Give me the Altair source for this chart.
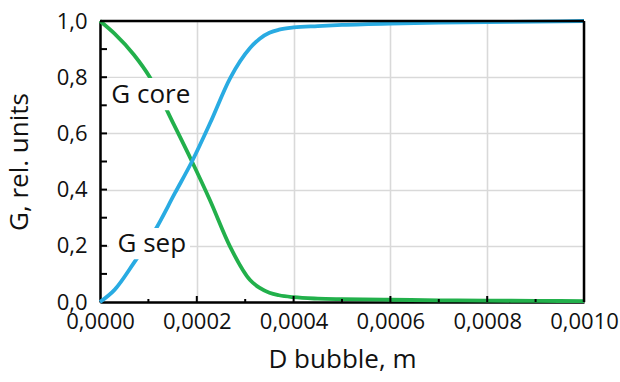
import altair as alt
import pandas as pd

# G core (green, decreasing)
core_x = [0.0, 0.00003, 0.00007, 0.000103, 0.000153, 0.00019, 0.000227, 0.000269, 0.00031,
          0.00033, 0.00035, 0.00037, 0.0004, 0.00045, 0.0005, 0.0006, 0.0007, 0.0008, 0.0009, 0.001]
core_y = [1.0, 0.955, 0.88, 0.80, 0.63, 0.50, 0.363, 0.196, 0.078,
          0.050, 0.033, 0.024, 0.017, 0.012, 0.010, 0.008, 0.006, 0.005, 0.004, 0.003]

# G sep (blue, increasing)
sep_x = [0.0, 0.00003, 0.00007, 0.000114, 0.000155, 0.00019, 0.000227, 0.000269, 0.00031,
         0.00033, 0.00035, 0.00037, 0.0004, 0.00045, 0.0005, 0.0006, 0.0007, 0.0008, 0.0009, 0.001]
sep_y = [0.0, 0.043, 0.139, 0.256, 0.388, 0.50, 0.635, 0.797, 0.904,
         0.937, 0.958, 0.969, 0.977, 0.982, 0.986, 0.991, 0.994, 0.996, 0.998, 1.0]

x_ticks = [0.0, 0.0002, 0.0004, 0.0006, 0.0008, 0.001]
y_ticks = [0.0, 0.2, 0.4, 0.6, 0.8, 1.0]
x_major_inner = [0.0002, 0.0004, 0.0006, 0.0008]
x_minor = [0.0001, 0.0003, 0.0005, 0.0007, 0.0009]
y_inner = [0.1, 0.2, 0.3, 0.4, 0.5, 0.6, 0.7, 0.8, 0.9]

labels = ["G core", "G sep"]
label_x = [0.000105, 0.000107]
label_y = [0.737, 0.205]
box_x1 = [0.000014, 0.000018]
box_x2 = [0.000188, 0.000186]
box_y1 = [0.682, 0.152]
box_y2 = [0.797, 0.263]

x_max = [0.001]
y_max = [1.0]

FONT = "Open Sans"
BLUE = "#29abe2"
GREEN = "#22b04b"

df = pd.concat([
    pd.DataFrame({"x": core_x, "y": core_y, "series": "G core"}),
    pd.DataFrame({"x": sep_x, "y": sep_y, "series": "G sep"}),
])

xscale = alt.Scale(domain=[0, 0.001], nice=False)
yscale = alt.Scale(domain=[0, 1], nice=False)

lines = alt.Chart(df).mark_line(strokeWidth=3.8, interpolate="monotone").encode(
    x=alt.X("x:Q", scale=xscale,
            axis=alt.Axis(values=x_ticks, title="D bubble, m",
                          labelExpr="replace(format(datum.value, '.4f'), '.', ',')",
                          grid=True, gridColor="#d9d9d9", gridWidth=1.6,
                          domain=True, domainColor="black", domainWidth=2.5,
                          ticks=False, tickSize=0,
                          labelPadding=9, labelFontSize=22, labelFont=FONT,
                          labelColor="#111", titleFont=FONT, titleFontSize=26,
                          titleFontWeight="normal", titleColor="#111",
                          titlePadding=14, labelFlush=False, labelOverlap=False)),
    y=alt.Y("y:Q", scale=yscale,
            axis=alt.Axis(values=y_ticks, title="G, rel. units",
                          labelExpr="replace(format(datum.value, '.1f'), '.', ',')",
                          grid=True, gridColor="#d9d9d9", gridWidth=1.6,
                          domain=True, domainColor="black", domainWidth=2.5,
                          ticks=False, tickSize=0,
                          labelPadding=13, labelFontSize=22, labelFont=FONT,
                          labelColor="#111", titleFont=FONT, titleFontSize=26,
                          titleFontWeight="normal", titleColor="#111",
                          titlePadding=24, labelFlush=False, labelOverlap=False)),
    color=alt.Color("series:N", scale=alt.Scale(domain=["G core", "G sep"], range=[GREEN, BLUE]),
                    legend=None),
    detail="series:N",
)

right_edge = alt.Chart(pd.DataFrame({"v": x_max})).mark_rule(color="black", strokeWidth=2.5).encode(
    x=alt.X("v:Q", scale=xscale))
top_edge = alt.Chart(pd.DataFrame({"v": y_max})).mark_rule(color="black", strokeWidth=2.5).encode(
    y=alt.Y("v:Q", scale=yscale))

lab_df = pd.DataFrame({"label": labels, "x": label_x, "y": label_y,
                       "x1": box_x1, "x2": box_x2, "y1": box_y1, "y2": box_y2})

boxes = alt.Chart(lab_df).mark_rect(color="white").encode(
    x=alt.X("x1:Q", scale=xscale), x2="x2:Q",
    y=alt.Y("y1:Q", scale=yscale), y2="y2:Q",
)

texts = alt.Chart(lab_df).mark_text(font=FONT, fontSize=26, color="#111",
                                     align="center", baseline="middle").encode(
    x=alt.X("x:Q", scale=xscale), y=alt.Y("y:Q", scale=yscale), text="label:N",
)

xmaj = alt.Chart(pd.DataFrame({"v": x_major_inner})).mark_rule(color="black", strokeWidth=2).encode(
    x=alt.X("v:Q", scale=xscale), y=alt.value(281), y2=alt.value(275))
xmin = alt.Chart(pd.DataFrame({"v": x_minor})).mark_rule(color="black", strokeWidth=2).encode(
    x=alt.X("v:Q", scale=xscale), y=alt.value(281), y2=alt.value(278))
ytk = alt.Chart(pd.DataFrame({"v": y_inner})).mark_rule(color="black", strokeWidth=2).encode(
    y=alt.Y("v:Q", scale=yscale), x=alt.value(0), x2=alt.value(7))

chart = alt.layer(lines, right_edge, top_edge, xmaj, xmin, ytk, boxes, texts).properties(
    width=484, height=281,
    background="white",
    autosize=alt.AutoSizeParams(type="none"),
    padding={"left": 100, "top": 21, "right": 36, "bottom": 80},
).configure_view(strokeWidth=0)

chart.save("out.html", embed_options={"renderer": "svg", "actions": False})
